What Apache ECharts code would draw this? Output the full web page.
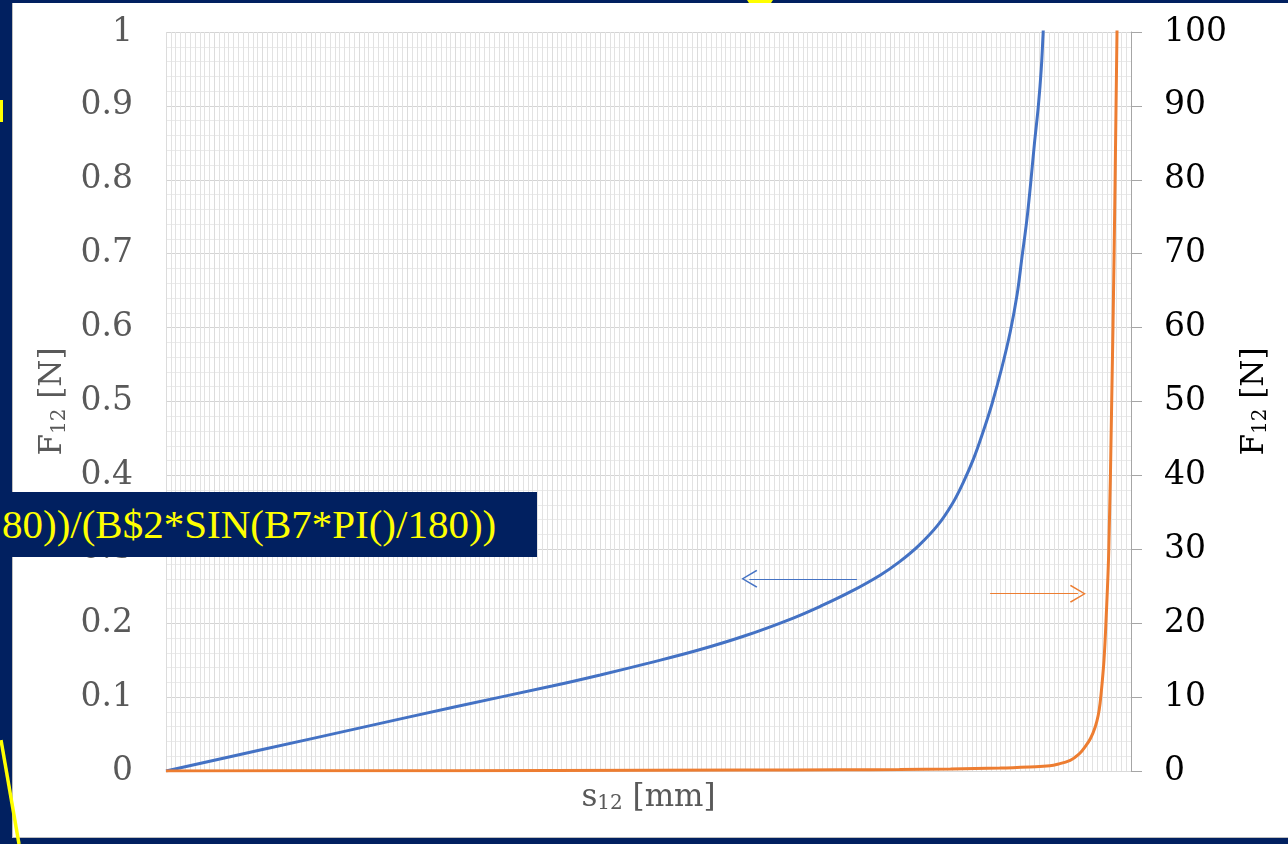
<!DOCTYPE html>
<html>
<head>
<meta charset="utf-8">
<script src="https://cdn.jsdelivr.net/npm/echarts@6/dist/echarts.min.js"></script>
<style>
  html, body { margin: 0; padding: 0; width: 1288px; height: 844px; overflow: hidden; background: #012060; }
  #chart { position: absolute; left: 12px; top: 3px; width: 1276px; height: 835px; background: #ffffff;
           border-left: 1px solid #bfbfbf; border-bottom: 1px solid #bfbfbf; box-sizing: border-box; }
  #formula { position: absolute; left: 0; top: 492px; width: 537px; height: 65px; background: #012060;
             color: #ffff00; font-family: "Liberation Serif", serif; font-size: 41px; line-height: 65px;
             white-space: nowrap; overflow: hidden; padding-left: 2px; box-sizing: border-box; }
  #deco { position: absolute; left: 0; top: 0; pointer-events: none; }
</style>
</head>
<body>
<div id="chart"></div>
<div id="formula">80))/(B$2*SIN(B7*PI()/180))</div>
<svg id="deco" width="1288" height="844">
  <line x1="1" y1="740" x2="19" y2="844" stroke="#ffff00" stroke-width="3.5"/>
  <rect x="0" y="100" width="3" height="22" fill="#ffff00"/>
  <path d="M747,0 L773,0 L771,3 L749,3 Z" fill="#ffff00"/>
</svg>
<script>
// s12 positions (arbitrary axis units 0..100, axis has no labels)
const blueX = [0, 10, 20, 30, 40, 45, 50, 55, 60, 65, 68, 71, 74, 76, 78, 80, 81.5, 82.6, 83.7, 84.7, 85.6, 86.6, 87.5, 88.2, 88.7, 89.2, 89.6, 90.0, 90.4, 90.7, 90.9, 91.1];
const blueY = [0, 0.029, 0.058, 0.087, 0.115, 0.130, 0.146, 0.163, 0.183, 0.207, 0.224, 0.243, 0.265, 0.283, 0.305, 0.333, 0.362, 0.39, 0.423, 0.46, 0.497, 0.545, 0.595, 0.645, 0.695, 0.745, 0.795, 0.85, 0.90, 0.95, 1.00, 1.05];
const orangeX = [0, 20, 40, 60, 70, 76, 81.3, 86.4, 89.5, 91.6, 92.5, 93.7, 94.2, 94.7, 95.2, 95.8, 96.3, 96.6, 96.8, 97.0, 97.2, 97.4, 97.7, 98.0, 98.25, 98.45, 98.55, 98.65];
const orangeY = [0, 0.03, 0.07, 0.12, 0.16, 0.2, 0.27, 0.4, 0.55, 0.7, 0.95, 1.45, 1.85, 2.4, 3.2, 4.4, 6.0, 7.5, 9.2, 11.8, 15, 20, 30, 50, 70, 90, 100, 110];
const leftTicks = ['0', '0.1', '0.2', '0.3', '0.4', '0.5', '0.6', '0.7', '0.8', '0.9', '1'];
const rightTicks = ['0', '10', '20', '30', '40', '50', '60', '70', '80', '90', '100'];
// arrow annotations [tail, head] in data coordinates
const blueArrow = [[71.6, 0.2601], [60.45, 0.2601]];
const orangeArrow = [[85.4, 23.986], [94.5, 23.986]];

const FONT = 'DejaVu Serif';
const blueData = blueX.map((x, i) => [x, blueY[i]]);
const orangeData = orangeX.map((x, i) => [x, orangeY[i]]);
const chevron = 'path://M5,0 L10,9.2 L9.3,9.8 L5,1.6 L0.7,9.8 L0,9.2 Z';

function nameRich(color) {
  return {
    color: color, fontFamily: FONT, rich: {
      a: { fontSize: 31, color: color, fontFamily: FONT },
      s: { fontSize: 20, color: color, fontFamily: FONT, verticalAlign: 'bottom', padding: [13, 0, 0, 0] }
    }
  };
}

const chart = echarts.init(document.getElementById('chart'), null, { renderer: 'canvas' });
chart.setOption({
  animation: false,
  textStyle: { fontFamily: FONT },
  grid: { left: 153, right: 157, top: 29, bottom: 66, containLabel: false },
  xAxis: {
    type: 'value', min: 0, max: 100, interval: 5,
    name: '{a|s}{s|12}{a| [mm]}', nameLocation: 'middle', nameGap: 10,
    nameTextStyle: nameRich('#595959'),
    axisLine: { show: true, lineStyle: { color: '#d9d9d9', width: 1 } },
    axisTick: { show: false },
    axisLabel: { show: false },
    splitLine: { show: true, lineStyle: { color: '#dcdcdc', width: 1 } },
    minorTick: { show: false, splitNumber: 10 },
    minorSplitLine: { show: true, lineStyle: { color: '#e2e2e2', width: 1 } }
  },
  yAxis: [
    {
      type: 'value', min: 0, max: 1, interval: 0.1, position: 'left',
      name: '{a|F}{s|12}{a| [N]}', nameLocation: 'middle', nameGap: 95, nameRotate: 90,
      nameTextStyle: nameRich('#595959'),
      axisLine: { show: false },
      axisTick: { show: false },
      axisLabel: { color: '#595959', fontSize: 33, fontFamily: FONT, margin: 33,
                   formatter: (v) => leftTicks[Math.round(v * 10)] },
      splitLine: { show: true, lineStyle: { color: '#d4d4d4', width: 1 } },
      minorTick: { show: false, splitNumber: 5 },
      minorSplitLine: { show: true, lineStyle: { color: '#eaeaea', width: 1 } }
    },
    {
      type: 'value', min: 0, max: 100, interval: 10, position: 'right',
      name: '{a|F}{s|12}{a| [N]}', nameLocation: 'middle', nameGap: 107, nameRotate: 90,
      nameTextStyle: nameRich('#000000'),
      axisLine: { show: true, lineStyle: { color: '#a6a6a6', width: 1 } },
      axisTick: { show: true, inside: false, length: 11, lineStyle: { color: '#a6a6a6' } },
      axisLabel: { color: '#000000', fontSize: 33, fontFamily: FONT, margin: 33,
                   formatter: (v) => rightTicks[Math.round(v / 10)] },
      splitLine: { show: false }
    }
  ],
  series: [
    {
      type: 'line', name: 'F12 left', yAxisIndex: 0, data: blueData,
      smooth: 0.4, showSymbol: false, clip: true,
      lineStyle: { color: '#4472C4', width: 3 }, itemStyle: { color: '#4472C4' },
      markLine: {
        silent: true, symbol: ['none', chevron], symbolSize: [18, 16],
        label: { show: false }, animation: false,
        lineStyle: { color: '#4472C4', width: 1, type: 'solid' },
        data: [[{ coord: blueArrow[0] }, { coord: blueArrow[1] }]]
      }
    },
    {
      type: 'line', name: 'F12 right', yAxisIndex: 1, data: orangeData,
      smooth: 0.4, showSymbol: false, clip: true,
      lineStyle: { color: '#ED7D31', width: 3 }, itemStyle: { color: '#ED7D31' },
      markLine: {
        silent: true, symbol: ['none', chevron], symbolSize: [18, 16],
        label: { show: false }, animation: false,
        lineStyle: { color: '#ED7D31', width: 1, type: 'solid' },
        itemStyle: { color: '#ED7D31' },
        data: [[{ coord: orangeArrow[0], lineStyle: { color: '#ED7D31' } }, { coord: orangeArrow[1] }]]
      }
    }
  ]
});
</script>
</body>
</html>
